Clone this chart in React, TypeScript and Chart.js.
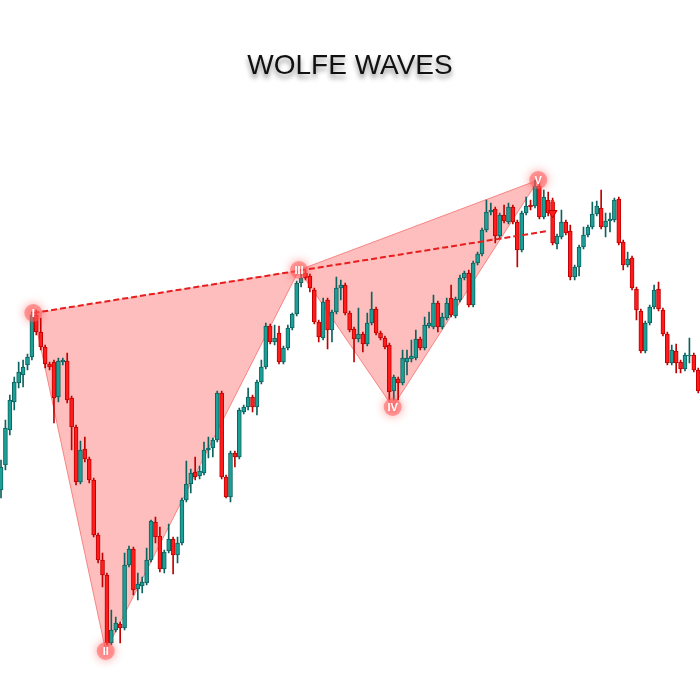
import { useEffect, useRef } from "react";
import { Chart, registerables } from "chart.js";

Chart.register(...registerables);

const TITLE = "WOLFE WAVES";

// Candle OHLC values (price units)
const opens = [
  210, 235, 270, 298, 317, 325, 335, 343, 385, 368,
  353, 336, 338, 303, 338, 339, 302, 273, 218, 251,
  241, 220, 165, 140, 125, 57, 70, 76, 72, 135,
  151, 111, 114, 117, 140, 178, 164, 131, 149, 161,
  145, 157, 200, 216, 228, 224, 227, 250, 252, 260,
  307, 223, 203, 247, 243, 288, 293, 303, 293, 318,
  333, 374, 358, 367, 338, 352, 372, 386, 417, 427,
  424, 410, 378, 362, 400, 370, 388, 412, 415, 387,
  371, 361, 366, 356, 377, 391, 367, 362, 355, 309,
  321, 317, 338, 341, 342, 361, 352, 374, 373, 397,
  373, 382, 402, 384, 400, 422, 427, 395, 437, 446,
  470, 488, 491, 464, 485, 478, 493, 478, 450, 487,
  495, 494, 514, 483, 500, 498, 456, 463, 478, 469,
  423, 433, 453, 465, 473, 486, 492, 473, 479, 480,
  501, 458, 435, 442, 411, 389, 349, 377, 393, 411,
  390, 366, 337, 349, 338, 331, 344, 345, 330,
];
const highs = [
  240, 280, 305, 323, 338, 340, 346, 388, 390, 382,
  355, 338, 340, 342, 342, 347, 304, 275, 259, 263,
  243, 222, 167, 147, 127, 90, 83, 78, 147, 154,
  153, 127, 123, 152, 180, 183, 173, 150, 176, 163,
  163, 202, 239, 231, 243, 234, 258, 263, 262, 309,
  309, 225, 249, 249, 292, 295, 312, 305, 320, 340,
  377, 376, 375, 374, 354, 375, 387, 419, 427, 430,
  426, 412, 380, 402, 402, 390, 423, 420, 417, 389,
  373, 392, 368, 387, 408, 393, 369, 364, 357, 325,
  323, 350, 350, 360, 370, 363, 383, 388, 405, 399,
  387, 402, 415, 403, 425, 429, 430, 439, 448, 472,
  500, 497, 493, 487, 495, 497, 495, 480, 489, 503,
  500, 520, 518, 510, 508, 502, 466, 490, 480, 475,
  435, 455, 473, 475, 498, 499, 510, 487, 487, 502,
  503, 460, 448, 444, 413, 391, 379, 395, 415, 418,
  392, 368, 355, 356, 340, 347, 362, 347, 332,
];
const lows = [
  202, 230, 265, 290, 312, 313, 330, 340, 365, 350,
  332, 330, 277, 298, 335, 297, 250, 215, 216, 238,
  217, 163, 137, 113, 55, 55, 68, 57, 70, 133,
  105, 100, 107, 115, 138, 157, 128, 127, 147, 126,
  137, 155, 198, 207, 220, 221, 225, 242, 243, 258,
  221, 202, 198, 233, 241, 286, 290, 288, 285, 316,
  331, 356, 355, 336, 336, 350, 370, 384, 413, 420,
  408, 376, 358, 360, 351, 358, 386, 400, 385, 368,
  338, 358, 348, 354, 375, 365, 360, 351, 300, 300,
  300, 315, 325, 338, 340, 350, 350, 372, 371, 368,
  371, 380, 383, 382, 398, 420, 393, 393, 435, 444,
  468, 485, 457, 462, 477, 476, 476, 433, 448, 485,
  490, 492, 481, 481, 484, 455, 451, 461, 465, 420,
  420, 424, 451, 463, 471, 484, 471, 463, 468, 478,
  455, 430, 433, 410, 380, 347, 347, 375, 391, 389,
  364, 335, 335, 327, 327, 329, 337, 328, 307,
];
const closes = [
  233, 272, 300, 318, 328, 333, 343, 385, 368, 353,
  336, 333, 302, 339, 340, 300, 273, 218, 250, 241,
  220, 165, 140, 125, 57, 70, 77, 72, 135, 151,
  110, 116, 118, 140, 179, 163, 131, 148, 161, 145,
  157, 200, 216, 227, 223, 229, 250, 252, 260, 307,
  223, 203, 247, 243, 290, 293, 303, 293, 318, 333,
  374, 358, 362, 338, 352, 372, 386, 417, 422, 422,
  412, 378, 363, 398, 370, 388, 412, 415, 387, 370,
  361, 366, 356, 377, 391, 367, 362, 353, 308, 323,
  317, 342, 342, 344, 361, 352, 375, 377, 397, 373,
  383, 397, 385, 401, 422, 427, 395, 437, 446, 470,
  488, 490, 464, 485, 479, 493, 478, 450, 487, 494,
  493, 514, 483, 503, 487, 457, 464, 478, 467, 423,
  433, 453, 465, 473, 486, 494, 473, 479, 481, 500,
  457, 435, 441, 412, 390, 349, 377, 393, 410, 391,
  366, 337, 350, 337, 331, 345, 345, 330, 309,
];

// Wolfe wave pivot points (candle index position, price)
const waveLabels = ["I", "II", "III", "IV", "V"];
const waveX = [7.32, 23.73, 67.53, 88.76, 121.75];
const waveY = [387, 49, 430, 293, 520];

// Dashed 1-3 line (start at I, extended beyond III)
const trendX = [7.32, 123.95];
const trendY = [387, 469];

// Target arrow
const arrowX = 125;
const arrowShaftY = [500, 491];
const arrowHeadY = 487;

const TITLE_SIZE = 28;
const TITLE_PAD_TOP = 49;
const TITLE_PAD_BOTTOM = 10;
const CANVAS = 700;
const Y_MAX = CANVAS - (TITLE_PAD_TOP + TITLE_SIZE * 1.2 + TITLE_PAD_BOTTOM);
const X_MIN = -0.23;
const X_MAX = 158.4;

const TEAL = "#1c9f96";
const TEAL_DARK = "#0c625d";
const RED = "#ff1c1c";
const RED_DARK = "#c20000";
const FILL = "rgba(255, 120, 120, 0.48)";
const EDGE = "rgba(245, 95, 95, 0.7)";

export default function App() {
  const ref = useRef<HTMLCanvasElement>(null);

  useEffect(() => {
    document.body.style.margin = "0";
    const canvas = ref.current;
    if (!canvas) return;

    const idx = opens.map((_, i) => i);
    const bull = (i: number) => closes[i] >= opens[i];
    const wickData = idx.map((i) => ({ x: i, y: [lows[i], highs[i]] }));
    const bodyData = idx.map((i) => ({ x: i, y: [opens[i], closes[i]] }));
    const pt = (k: number) => ({ x: waveX[k], y: waveY[k] });

    const titleShadow = {
      id: "titleShadow",
      beforeDraw(chart: any) {
        const c = chart.ctx;
        c.save();
        c.shadowColor = "rgba(0,0,0,0.45)";
        c.shadowBlur = 5;
        c.shadowOffsetX = 0;
        c.shadowOffsetY = 4;
      },
      beforeDatasetsDraw(chart: any) {
        chart.ctx.restore();
      },
    };

    const markerGlow = {
      id: "markerGlow",
      beforeDatasetDraw(chart: any, args: any) {
        if (chart.data.datasets[args.index].label === "Wave points") {
          const c = chart.ctx;
          c.save();
          c.shadowColor = "rgba(255,40,40,0.85)";
          c.shadowBlur = 10;
        }
      },
      afterDatasetDraw(chart: any, args: any) {
        if (chart.data.datasets[args.index].label === "Wave points") {
          chart.ctx.restore();
        }
      },
    };

    const markerText = {
      id: "markerText",
      afterDatasetsDraw(chart: any) {
        const di = chart.data.datasets.findIndex((d: any) => d.label === "Wave points");
        const meta = chart.getDatasetMeta(di);
        const c = chart.ctx;
        c.save();
        c.fillStyle = "#ffffff";
        c.font = 'bold 11px "Liberation Sans", Arial, sans-serif';
        c.textAlign = "center";
        c.textBaseline = "middle";
        meta.data.forEach((el: any, i: number) => {
          c.fillText(waveLabels[i], el.x, el.y + 0.5);
        });
        c.restore();
      },
    };

    const chart = new Chart(canvas, {
      type: "bar",
      data: {
        datasets: [
          {
            type: "line",
            label: "Wave 1-2-3",
            data: [pt(0), pt(1), pt(2)],
            fill: "shape",
            backgroundColor: FILL,
            borderColor: EDGE,
            borderWidth: 1,
            pointRadius: 0,
            order: 10,
          } as any,
          {
            type: "line",
            label: "Wave 3-4-5",
            data: [pt(2), pt(3), pt(4), pt(2)],
            fill: "shape",
            backgroundColor: FILL,
            borderColor: EDGE,
            borderWidth: 1,
            pointRadius: 0,
            order: 9,
          } as any,
          {
            label: "Wicks",
            data: wickData as any,
            grouped: false,
            barThickness: 1,
            backgroundColor: (ctx: any) => (bull(ctx.dataIndex) ? TEAL_DARK : RED_DARK),
            borderWidth: 0,
            order: 6,
          } as any,
          {
            label: "Bodies",
            data: bodyData as any,
            grouped: false,
            barThickness: 4,
            borderSkipped: false,
            borderWidth: 1,
            backgroundColor: (ctx: any) => (bull(ctx.dataIndex) ? TEAL : RED),
            borderColor: (ctx: any) => (bull(ctx.dataIndex) ? TEAL_DARK : RED_DARK),
            order: 5,
          } as any,
          {
            type: "line",
            label: "1-3 line",
            data: [
              { x: trendX[0], y: trendY[0] },
              { x: trendX[1], y: trendY[1] },
            ],
            borderColor: "#e61e1e",
            borderWidth: 2,
            borderDash: [6, 3],
            pointRadius: 0,
            fill: false,
            order: 3,
          } as any,
          {
            type: "line",
            label: "Wave points",
            data: waveX.map((_, k) => pt(k)),
            showLine: false,
            pointRadius: 9,
            pointBackgroundColor: "rgba(255, 95, 95, 0.55)",
            pointBorderWidth: 0,
            order: 2,
          } as any,
          {
            type: "line",
            label: "Arrow shaft",
            data: [
              { x: arrowX, y: arrowShaftY[0] },
              { x: arrowX, y: arrowShaftY[1] },
            ],
            borderColor: RED,
            borderWidth: 3,
            pointRadius: 0,
            order: 1,
          } as any,
          {
            type: "line",
            label: "Arrow head",
            data: [{ x: arrowX, y: arrowHeadY }],
            showLine: false,
            pointStyle: "triangle",
            rotation: 180,
            pointRadius: 5,
            pointBackgroundColor: RED,
            pointBorderColor: RED_DARK,
            pointBorderWidth: 1,
            order: 1,
          } as any,
        ],
      },
      options: {
        animation: false,
        responsive: false,
        events: [],
        layout: { padding: 0, autoPadding: false },
        plugins: {
          legend: { display: false },
          tooltip: { enabled: false },
          title: {
            display: true,
            text: TITLE,
            color: "#111111",
            font: { family: '"Liberation Sans", Arial, sans-serif', size: TITLE_SIZE, weight: "normal" as any },
            padding: { top: TITLE_PAD_TOP, bottom: TITLE_PAD_BOTTOM },
          },
        },
        scales: {
          x: { type: "linear", min: X_MIN, max: X_MAX, offset: false, display: false },
          y: { type: "linear", min: 0, max: Y_MAX, display: false },
        },
      } as any,
      plugins: [titleShadow, markerGlow, markerText],
    });

    return () => chart.destroy();
  }, []);

  return (
    <div style={{ width: CANVAS, height: CANVAS, background: "#ffffff" }}>
      <canvas ref={ref} width={CANVAS} height={CANVAS} style={{ display: "block" }} />
    </div>
  );
}
